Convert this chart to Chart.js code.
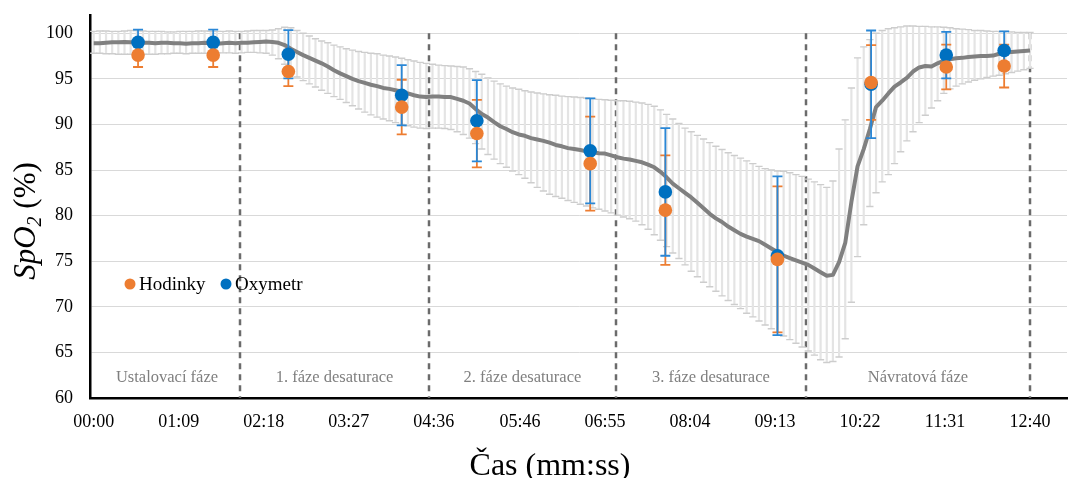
<!DOCTYPE html>
<html>
<head>
<meta charset="utf-8">
<script src="https://cdn.jsdelivr.net/npm/chart.js@4.4.0/dist/chart.umd.min.js"></script>
<style>
  body { margin: 0; background: #fff; }
  canvas { display: block; }
</style>
</head>
<body>
<canvas id="myChart" width="1077" height="478"></canvas>
<script>
// prumer vsech mereni, krok 5 s (0..760 s)
var lineStep = 5;
var meanLine = [
  98.9, 98.9, 98.95, 99.0, 99.0, 99.05, 99.0, 99.0, 98.95, 98.95,
  98.9, 98.95, 98.95, 98.9, 98.9, 98.85, 98.9, 98.9, 98.95, 98.9,
  98.85, 98.9, 98.95, 98.9, 98.95, 98.95, 99.0, 99.05, 99.1, 99.05,
  98.95, 98.7, 98.3, 97.95, 97.6, 97.3, 97.0, 96.7, 96.35, 95.95,
  95.6, 95.3, 95.0, 94.75, 94.55, 94.35, 94.2, 94.0, 93.9, 93.75,
  93.6, 93.4, 93.2, 93.05, 93.0, 93.05, 93.05, 93.0, 93.0, 92.8,
  92.6, 92.3, 91.7, 91.15, 90.75, 90.25, 89.8, 89.5, 89.15, 88.9,
  88.75, 88.5, 88.35, 88.2, 88.0, 87.75, 87.6, 87.4, 87.3, 87.2,
  87.05, 86.95, 86.85, 86.8, 86.6, 86.4, 86.25, 86.15, 86.0, 85.85,
  85.6, 85.3, 84.8, 84.2, 83.5, 83.0, 82.5, 82.0, 81.4, 80.8,
  80.2, 79.7, 79.3, 78.8, 78.4, 78.0, 77.7, 77.45, 77.2, 76.8,
  76.4, 76.0, 75.6, 75.35, 75.1, 74.85, 74.6, 74.2, 73.8, 73.4,
  73.5, 74.9, 77.0, 81.5, 85.4, 87.3, 89.5, 91.9, 92.6, 93.4,
  94.15, 94.6, 95.1, 95.8, 96.25, 96.4, 96.35, 96.7, 97.0, 97.15,
  97.25, 97.3, 97.4, 97.45, 97.5, 97.5, 97.55, 97.75, 97.9, 97.95,
  98.0, 98.05, 98.1
];
// horni a dolni konec chybovych usecek
var upperLine = [
  100.2, 100.25, 100.25, 100.2, 100.2, 100.25, 100.3, 100.3, 100.25, 100.2,
  100.2, 100.2, 100.15, 100.15, 100.2, 100.2, 100.2, 100.25, 100.25, 100.2,
  100.2, 100.2, 100.25, 100.2, 100.2, 100.25, 100.3, 100.3, 100.3, 100.35,
  100.5, 100.65, 100.6, 100.3, 100.0, 99.7, 99.4, 99.15, 98.95, 98.7,
  98.5, 98.3, 98.15, 98.0, 97.9, 97.8, 97.75, 97.6, 97.5, 97.4,
  97.25, 97.1, 96.95, 96.8, 96.7, 96.6, 96.5, 96.45, 96.4, 96.35,
  96.3, 96.1, 95.8, 95.5, 95.1, 94.75, 94.45, 94.2, 94.0, 93.85,
  93.7, 93.55, 93.45, 93.35, 93.25, 93.2, 93.1, 93.05, 93.0, 92.95,
  92.9, 92.85, 92.75, 92.7, 92.65, 92.6, 92.6, 92.55, 92.45, 92.35,
  92.2, 92.0, 91.6, 91.1, 90.6, 90.1, 89.6, 89.2, 88.8, 88.4,
  88.0, 87.6, 87.25, 86.9, 86.6, 86.3, 86.0, 85.7, 85.4, 85.15,
  85.0, 84.9, 84.85, 84.7, 84.5, 84.3, 84.0, 83.7, 83.4, 83.1,
  83.8, 87.3, 90.5, 94.0, 97.3, 98.5, 99.3, 100.0, 100.3, 100.5,
  100.6, 100.7, 100.8, 100.8, 100.75, 100.75, 100.7, 100.7, 100.65, 100.6,
  100.5, 100.45, 100.4, 100.3, 100.3, 100.25, 100.2, 100.2, 100.2, 100.15,
  100.1, 100.1, 100.1
];
var lowerLine = [
  97.8, 97.8, 97.75, 97.75, 97.7, 97.7, 97.7, 97.7, 97.7, 97.7,
  97.7, 97.75, 97.75, 97.8, 97.8, 97.75, 97.8, 97.8, 97.8, 97.8,
  97.85, 97.85, 97.85, 97.8, 97.85, 97.9, 97.9, 97.85, 97.8, 97.6,
  97.2, 96.6, 95.9, 95.2, 94.8, 94.45, 94.1, 93.75, 93.4, 93.05,
  92.75, 92.4, 92.05, 91.7, 91.35, 91.05, 90.8, 90.6, 90.4, 90.2,
  90.0, 89.85, 89.7, 89.6, 89.55, 89.6, 89.6, 89.55, 89.45, 89.2,
  88.9, 88.5, 87.9, 87.3, 86.7, 86.2, 85.7, 85.3, 84.9, 84.5,
  84.1, 83.6, 83.1, 82.7, 82.35, 82.1, 81.9, 81.65, 81.45, 81.25,
  81.05, 80.85, 80.7, 80.5, 80.3, 80.05, 79.85, 79.65, 79.4, 79.0,
  78.5, 77.9, 77.3, 76.6, 75.9, 75.3, 74.6, 73.9, 73.3, 72.7,
  72.2, 71.7, 71.2, 70.7, 70.25, 69.8, 69.3, 68.9, 68.45, 68.0,
  67.6, 67.2, 66.8, 66.4, 66.0, 65.6, 65.15, 64.7, 64.2, 63.9,
  64.0, 64.5, 66.5, 70.5, 75.5, 79.0, 81.0, 82.5, 83.7, 84.5,
  85.7, 87.0, 88.2, 89.2, 90.2, 91.0, 91.8, 92.6, 93.4, 93.9,
  94.2, 94.45, 94.65, 94.85, 95.0, 95.15, 95.3, 95.4, 95.55, 95.7,
  95.85, 96.0, 96.15
];

// body hodinek a oxymetru (cas v s)
var pointTimes = [36, 97, 158, 250, 311, 403, 464, 555, 631, 692, 739];
var hodinky    = [97.6, 97.6, 95.8, 91.9, 89.0, 85.7, 80.6, 75.2, 94.6, 96.3, 96.4];
var hodinkySd  = [1.3, 1.3, 1.6, 3.0, 3.7, 5.15, 6.0, 8.0, 4.1, 2.45, 2.35];
var oxymetr    = [99.0, 99.0, 97.7, 93.2, 90.4, 87.1, 82.6, 75.6, 94.4, 97.6, 98.1];
var oxymetrSd  = [1.4, 1.4, 2.65, 3.3, 4.45, 5.75, 7.0, 8.7, 5.9, 2.55, 2.1];

var phaseBounds = [119, 272, 424, 578, 760];
var phaseNames = ["Ustalovací fáze", "1. fáze desaturace", "2. fáze desaturace", "3. fáze desaturace", "Návratová fáze"];

var tickSeconds = [0, 69, 138, 207, 276, 346, 415, 484, 553, 622, 691, 760];
var tickLabels = ["00:00", "01:09", "02:18", "03:27", "04:36", "05:46", "06:55", "08:04", "09:13", "10:22", "11:31", "12:40"];
var yTicks = [60, 65, 70, 75, 80, 85, 90, 95, 100];

var serif = "'Liberation Serif', 'Times New Roman', serif";

var meanData = meanLine.map(function (v, i) { return { x: i * lineStep, y: v }; });
var hodData = hodinky.map(function (v, i) { return { x: pointTimes[i], y: v }; });
var oxyData = oxymetr.map(function (v, i) { return { x: pointTimes[i], y: v }; });

// kresli chybove usecky jedne sady
function drawErrors(chart, ds) {
  const ctx = chart.ctx, x = chart.scales.x, y = chart.scales.y;
  ctx.save();
  ds.data.forEach(function (p, i) {
    const px = x.getPixelForValue(p.x);
    const top = y.getPixelForValue(ds.errHi[i]);
    const bot = y.getPixelForValue(ds.errLo[i]);
    ctx.strokeStyle = ds.errColor;
    ctx.lineWidth = ds.errWidth;
    ctx.beginPath();
    ctx.moveTo(px, top); ctx.lineTo(px, bot);
    ctx.stroke();
    ctx.strokeStyle = ds.capColor || ds.errColor;
    ctx.lineWidth = ds.capWidth || ds.errWidth;
    ctx.beginPath();
    ctx.moveTo(px - ds.capW, top); ctx.lineTo(px + ds.capW, top);
    ctx.moveTo(px - ds.capW, bot); ctx.lineTo(px + ds.capW, bot);
    ctx.stroke();
  });
  ctx.restore();
}

const overlay = {
  id: 'overlay',
  beforeDatasetsDraw(chart) {
    const ctx = chart.ctx, x = chart.scales.x, y = chart.scales.y;
    ctx.save();
    // prerusovane cary fazi
    ctx.strokeStyle = '#6b6b6b';
    ctx.lineWidth = 2.5;
    ctx.setLineDash([6, 5]);
    phaseBounds.forEach(function (b) {
      const px = Math.round(x.getPixelForValue(b));
      ctx.beginPath();
      ctx.moveTo(px, y.getPixelForValue(100));
      ctx.lineTo(px, y.getPixelForValue(60));
      ctx.stroke();
    });
    ctx.setLineDash([]);
    // popisky fazi
    ctx.fillStyle = '#7f7f7f';
    ctx.font = '16.5px ' + serif;
    ctx.textAlign = 'center';
    ctx.textBaseline = 'middle';
    phaseNames.forEach(function (name, i) {
      const a = i === 0 ? 0 : phaseBounds[i - 1];
      const px = (x.getPixelForValue(a) + x.getPixelForValue(phaseBounds[i])) / 2;
      ctx.fillText(name, px, y.bottom - 20.5);
    });
    ctx.restore();
  },
  beforeDatasetDraw(chart, args) {
    const sets = chart.data.datasets;
    if (args.index === 2) drawErrors(chart, sets[2]);
    // chybove usecky bodu: nejdriv hodinky, pak oxymetr, znacky az potom
    if (args.index === 1) {
      drawErrors(chart, sets[0]);
      drawErrors(chart, sets[1]);
    }
  },
  afterDraw(chart) {
    const ctx = chart.ctx;
    ctx.save();
    ctx.fillStyle = '#000';
    // osa x
    ctx.font = '32px ' + serif;
    ctx.textAlign = 'center';
    ctx.textBaseline = 'alphabetic';
    ctx.fillText('Čas (mm:ss)', 550, 475);
    // osa y: SpO2 (%)
    ctx.translate(24, 221);
    ctx.rotate(-Math.PI / 2);
    ctx.textAlign = 'left';
    ctx.font = 'italic 31px ' + serif;
    const w1 = ctx.measureText('SpO').width;
    ctx.font = 'italic 20px ' + serif;
    const w2 = ctx.measureText('2').width;
    ctx.font = '31px ' + serif;
    const w3 = ctx.measureText(' (%)').width;
    let sx = -(w1 + w2 + w3) / 2;
    ctx.font = 'italic 31px ' + serif;
    ctx.fillText('SpO', sx, 11);
    ctx.font = 'italic 20px ' + serif;
    ctx.fillText('2', sx + w1, 17);
    ctx.font = '31px ' + serif;
    ctx.fillText(' (%)', sx + w1 + w2, 11);
    ctx.restore();

    // legenda
    ctx.save();
    ctx.font = '19px ' + serif;
    ctx.textBaseline = 'middle';
    ctx.textAlign = 'left';
    [['Hodinky', '#ed7d31', 130], ['Oxymetr', '#0070c0', 226]].forEach(function (it) {
      ctx.fillStyle = it[1];
      ctx.beginPath();
      ctx.arc(it[2], 284, 5.5, 0, Math.PI * 2);
      ctx.fill();
      ctx.fillStyle = '#000';
      ctx.fillText(it[0], it[2] + 9, 285);
    });
    ctx.restore();
  }
};

const ctx = document.getElementById('myChart').getContext('2d');
const myChart = new Chart(ctx, {
  type: 'scatter',
  data: {
    datasets: [{
      label: 'Hodinky',
      data: hodData,
      backgroundColor: '#ed7d31',
      borderColor: '#ed7d31',
      borderWidth: 0,
      pointRadius: 6.8,
      errHi: hodinky.map(function (v, i) { return v + hodinkySd[i]; }),
      errLo: hodinky.map(function (v, i) { return v - hodinkySd[i]; }),
      errColor: '#ed7d31', errWidth: 1.8, capW: 5,
      order: 0
    }, {
      label: 'Oxymetr',
      data: oxyData,
      backgroundColor: '#0070c0',
      borderColor: '#0070c0',
      borderWidth: 0,
      pointRadius: 6.8,
      errHi: oxymetr.map(function (v, i) { return v + oxymetrSd[i]; }),
      errLo: oxymetr.map(function (v, i) { return v - oxymetrSd[i]; }),
      errColor: '#2a87d6', errWidth: 1.8, capW: 5,
      order: 1
    }, {
      label: 'Průměr',
      data: meanData,
      showLine: true,
      borderColor: '#808080',
      borderWidth: 4,
      borderJoinStyle: 'round',
      pointRadius: 0,
      tension: 0,
      errHi: upperLine,
      errLo: lowerLine,
      errColor: '#e4e4e4', errWidth: 2.2,
      capColor: '#cdcdcd', capWidth: 1.4, capW: 3.6,
      order: 2
    }]
  },
  options: {
    responsive: false,
    animation: false,
    events: [],
    layout: { padding: { top: 15, right: 10, left: 0, bottom: 0 } },
    plugins: { legend: { display: false }, tooltip: { enabled: false } },
    scales: {
      x: {
        type: 'linear',
        min: -3,
        max: 790,
        afterBuildTicks: function (scale) {
          scale.ticks = tickSeconds.map(function (v) { return { value: v }; });
        },
        afterFit: function (scale) {
          scale.height = 80;
          scale.paddingLeft = 0;
          scale.paddingRight = 0;
        },
        grid: { display: false, drawTicks: false },
        border: { display: true, color: '#000', width: 2.5 },
        ticks: {
          autoSkip: false,
          maxRotation: 0,
          padding: 13,
          color: '#000',
          font: { family: serif, size: 18 },
          callback: function (value, index) { return tickLabels[index]; }
        }
      },
      y: {
        min: 60,
        max: 102,
        afterBuildTicks: function (scale) {
          scale.ticks = yTicks.map(function (v) { return { value: v }; });
        },
        afterFit: function (scale) {
          scale.width = 90;
          scale.paddingTop = 0;
          scale.paddingBottom = 0;
        },
        grid: { color: '#d9d9d9', lineWidth: 1, drawTicks: false },
        border: { display: true, color: '#000', width: 2.5 },
        ticks: {
          padding: 17,
          color: '#000',
          font: { family: serif, size: 18 }
        }
      }
    }
  },
  plugins: [overlay]
});
</script>
</body>
</html>
